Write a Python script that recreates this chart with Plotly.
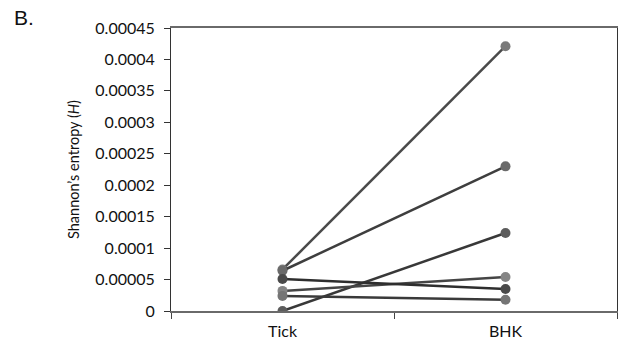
import plotly.graph_objects as go

categories = ["Tick", "BHK"]
tick_values = [0.000066, 0.000064, 0.0, 0.000032, 0.000051, 0.000024]
bhk_values = [0.000421, 0.000230, 0.000124, 0.000054, 0.000035, 0.000018]
marker_colors = ["#7a7a7a", "#6a6a6a", "#5c5c5c", "#858585", "#4a4a4a", "#757575"]
line_colors = ["#4a4a4a", "#3e3e3e", "#383838", "#454545", "#2e2e2e", "#3a3a3a"]
y_ticks = [0, 0.00005, 0.0001, 0.00015, 0.0002, 0.00025, 0.0003, 0.00035, 0.0004, 0.00045]
y_tick_text = ["0", "0.00005", "0.0001", "0.00015", "0.0002", "0.00025", "0.0003", "0.00035", "0.0004", "0.00045"]

fig = go.Figure()
for t, b, mc, lc in zip(tick_values, bhk_values, marker_colors, line_colors):
    fig.add_trace(go.Scatter(
        x=categories, y=[t, b], mode="lines+markers",
        line=dict(color=lc, width=2.5),
        marker=dict(color=mc, size=10),
        showlegend=False,
    ))

font_family = "Lato, Liberation Sans, sans-serif"
fig.update_layout(
    width=619, height=346, autosize=False,
    margin=dict(l=171, r=2, t=28, b=35),
    plot_bgcolor="white", paper_bgcolor="white",
    font=dict(family=font_family, size=16, color="#111"),
    xaxis=dict(
        type="category", categoryorder="array", categoryarray=categories,
        range=[-0.5, 1.5],
        showline=True, linecolor="#6a6a6a", linewidth=2, mirror=True,
        ticks="outside", ticklen=6, tickcolor="#444", tickson="boundaries",
        ticklabelstandoff=5,
        showgrid=False, zeroline=False,
        tickfont=dict(size=16, family=font_family, color="#111"),
    ),
    yaxis=dict(
        range=[0, 0.00045], tickvals=y_ticks, ticktext=y_tick_text,
        showline=True, linecolor="#333", linewidth=1, mirror=True,
        ticks="outside", ticklen=6, tickcolor="#333",
        ticklabelstandoff=6,
        showgrid=False, zeroline=False,
        tickfont=dict(size=16, family=font_family, color="#111"),
        title=dict(text="Shannon\u2019s entropy (<i>H</i>)", standoff=12,
                   font=dict(size=14.5, family=font_family, color="#111")),
    ),
    annotations=[dict(
        text="B.", xref="paper", yref="paper",
        x=(12 - 171) / 446, y=1 + (28 - 18) / 283,
        xanchor="left", yanchor="middle", showarrow=False,
        font=dict(size=21, family="Liberation Sans, Arial, sans-serif", color="#111"),
    )],
)

fig.write_html(
    "out.html",
    config={"responsive": False, "displayModeBar": False},
    post_script="document.body.style.margin='0';document.body.style.overflow='hidden';",
)
